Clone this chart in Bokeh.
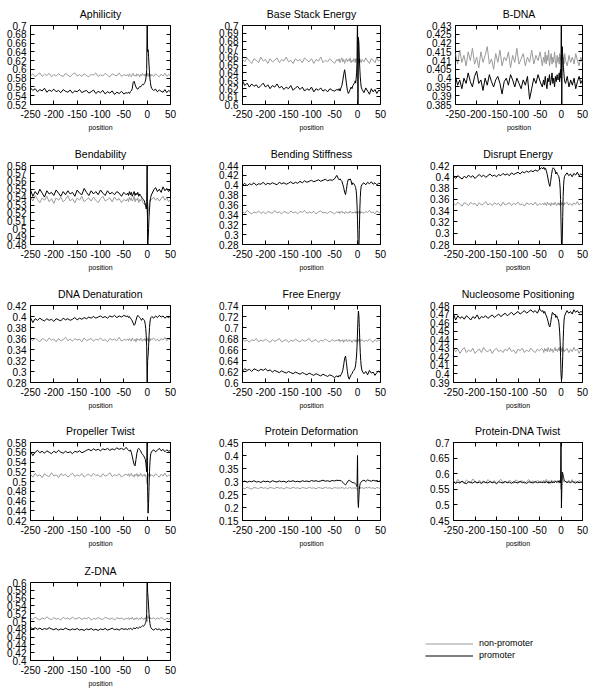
from bokeh.plotting import figure
from bokeh.layouts import column, row, Spacer
from bokeh.models import (Range1d, FixedTicker, LinearAxis, CustomJSTickFormatter,
                          Legend, LegendItem, ColumnDataSource)
from bokeh.embed import file_html
from bokeh.resources import INLINE

FONT = "Liberation Sans"
GRAY = "#9a9a9a"

POSITION = [-250, -245, -240, -235, -230, -225, -220, -215, -210, -205,
            -200, -195, -190, -185, -180, -175, -170, -165, -160, -155,
            -150, -145, -140, -135, -130, -125, -120, -115, -110, -105,
            -100, -95, -90, -85, -80, -75, -70, -65, -60, -55,
            -50, -45,
            -42, -40, -38, -36, -34, -32, -30, -28, -26, -24, -22, -20, -18, -16, -14, -12, -10, -8,
            -6, -5, -4, -3, -2, -1, 0, 1, 2, 3, 4, 5, 6, 7, 8,
            10, 14, 18, 22, 26, 30, 34, 38, 42, 46, 50]
X_TICKS = [-250, -200, -150, -100, -50, 0, 50]

# ---------------- Aphilicity ----------------
APH_TICKS = [0.52, 0.54, 0.56, 0.58, 0.60, 0.62, 0.64, 0.66, 0.68, 0.70]
APH_NONPROM = [0.585, 0.590, 0.583, 0.588, 0.592, 0.584, 0.589, 0.586, 0.591, 0.583,
               0.588, 0.585, 0.590, 0.586, 0.584, 0.591, 0.587, 0.583, 0.589, 0.592,
               0.585, 0.588, 0.584, 0.590, 0.586, 0.583, 0.589, 0.587, 0.592, 0.584,
               0.588, 0.585, 0.591, 0.586, 0.583, 0.590, 0.587, 0.585, 0.592, 0.584,
               0.588, 0.586,
               0.588, 0.584, 0.590, 0.586, 0.583, 0.589, 0.591, 0.585, 0.587, 0.584, 0.590, 0.586, 0.588, 0.583, 0.589, 0.585, 0.591, 0.587,
               0.586, 0.589, 0.584, 0.590, 0.587, 0.585, 0.592, 0.588, 0.584, 0.590, 0.586, 0.589, 0.583, 0.588, 0.585,
               0.589, 0.584, 0.590, 0.586, 0.583, 0.589, 0.585, 0.591, 0.584, 0.588, 0.586]
APH_PROM = [0.558, 0.552, 0.556, 0.549, 0.554, 0.551, 0.557, 0.548, 0.553, 0.550,
            0.555, 0.549, 0.552, 0.547, 0.554, 0.550, 0.548, 0.553, 0.546, 0.551,
            0.549, 0.554, 0.547, 0.550, 0.552, 0.546, 0.549, 0.553, 0.545, 0.550,
            0.547, 0.552, 0.544, 0.549, 0.546, 0.551, 0.543, 0.548, 0.545, 0.550,
            0.544, 0.547,
            0.546, 0.548, 0.545, 0.549, 0.551, 0.556, 0.570, 0.573, 0.566, 0.560, 0.556, 0.555, 0.558, 0.561, 0.560, 0.563, 0.566, 0.565,
            0.568, 0.570, 0.573, 0.578, 0.585, 0.600, 0.720, 0.640, 0.645, 0.630, 0.610, 0.592, 0.578, 0.570, 0.562,
            0.556, 0.552, 0.555, 0.549, 0.553, 0.550, 0.548, 0.554, 0.547, 0.552, 0.549]

# ---------------- Base Stack Energy ----------------
BSE_TICKS = [0.60, 0.61, 0.62, 0.63, 0.64, 0.65, 0.66, 0.67, 0.68, 0.69, 0.70]
BSE_NONPROM = [0.657, 0.654, 0.659, 0.655, 0.652, 0.658, 0.656, 0.653, 0.660, 0.655,
               0.657, 0.652, 0.658, 0.654, 0.656, 0.659, 0.653, 0.657, 0.655, 0.660,
               0.654, 0.656, 0.652, 0.658, 0.655, 0.657, 0.653, 0.659, 0.656, 0.654,
               0.658, 0.652, 0.657, 0.655, 0.660, 0.653, 0.656, 0.654, 0.658, 0.655,
               0.652, 0.657,
               0.655, 0.658, 0.653, 0.656, 0.659, 0.654, 0.657, 0.652, 0.656, 0.658, 0.654, 0.657, 0.655, 0.659, 0.653, 0.656, 0.654, 0.658,
               0.656, 0.653, 0.658, 0.655, 0.657, 0.654, 0.659, 0.656, 0.652, 0.657, 0.655, 0.658, 0.654, 0.656, 0.653,
               0.657, 0.654, 0.659, 0.655, 0.652, 0.658, 0.656, 0.653, 0.659, 0.655, 0.657]
BSE_PROM = [0.630, 0.624, 0.627, 0.622, 0.626, 0.623, 0.625, 0.621, 0.624, 0.627,
            0.622, 0.625, 0.620, 0.624, 0.622, 0.626, 0.621, 0.623, 0.619, 0.622,
            0.620, 0.624, 0.618, 0.621, 0.623, 0.619, 0.622, 0.617, 0.620, 0.618,
            0.622, 0.616, 0.620, 0.618, 0.621, 0.617, 0.619, 0.616, 0.620, 0.618,
            0.617, 0.619,
            0.618, 0.620, 0.617, 0.621, 0.624, 0.630, 0.638, 0.644, 0.636, 0.626, 0.618, 0.614, 0.616, 0.619, 0.622, 0.620, 0.624, 0.626,
            0.628, 0.630, 0.627, 0.632, 0.640, 0.655, 0.720, 0.580, 0.685, 0.678, 0.660, 0.645, 0.635, 0.628, 0.622,
            0.619, 0.615, 0.621, 0.617, 0.613, 0.620, 0.616, 0.619, 0.614, 0.618, 0.617]

# ---------------- B-DNA ----------------
BDNA_TICKS = [0.385, 0.39, 0.395, 0.40, 0.405, 0.41, 0.415, 0.42, 0.425, 0.43]
BDNA_NONPROM = [0.414, 0.408, 0.416, 0.409, 0.413, 0.407, 0.415, 0.410, 0.417, 0.408,
                0.412, 0.406, 0.415, 0.409, 0.413, 0.418, 0.408, 0.411, 0.405, 0.414,
                0.409, 0.416, 0.407, 0.412, 0.410, 0.415, 0.406, 0.413, 0.409, 0.417,
                0.408, 0.411, 0.414, 0.407, 0.412, 0.409, 0.416, 0.408, 0.413, 0.410,
                0.415, 0.407,
                0.412, 0.409, 0.415, 0.408, 0.413, 0.410, 0.416, 0.407, 0.411, 0.414, 0.408, 0.412, 0.409, 0.415, 0.410, 0.406, 0.413, 0.409,
                0.412, 0.408, 0.414, 0.410, 0.411, 0.413, 0.406, 0.404, 0.410, 0.413, 0.409, 0.412, 0.408, 0.411, 0.414,
                0.410, 0.407, 0.413, 0.409, 0.412, 0.408, 0.414, 0.410, 0.407, 0.412, 0.409]
BDNA_PROM = [0.401, 0.396, 0.399, 0.394, 0.400, 0.397, 0.403, 0.398, 0.395, 0.401,
             0.404, 0.397, 0.399, 0.393, 0.400, 0.396, 0.402, 0.398, 0.395, 0.399,
             0.401, 0.397, 0.391, 0.398, 0.400, 0.396, 0.402, 0.399, 0.395, 0.400,
             0.397, 0.394, 0.399, 0.396, 0.401, 0.388, 0.394, 0.400, 0.397, 0.402,
             0.398, 0.395,
             0.399, 0.396, 0.401, 0.397, 0.394, 0.400, 0.398, 0.402, 0.396, 0.399, 0.403, 0.397, 0.400, 0.395, 0.401, 0.398, 0.402, 0.399,
             0.400, 0.403, 0.398, 0.402, 0.405, 0.400, 0.440, 0.380, 0.418, 0.414, 0.410, 0.406, 0.403, 0.400, 0.398,
             0.397, 0.401, 0.395, 0.399, 0.396, 0.400, 0.394, 0.398, 0.401, 0.397, 0.399]

# ---------------- Bendability ----------------
BEND_TICKS = [0.48, 0.49, 0.50, 0.51, 0.52, 0.53, 0.54, 0.55, 0.56, 0.57, 0.58]
BEND_NONPROM = [0.540, 0.535, 0.542, 0.537, 0.533, 0.539, 0.536, 0.541, 0.534, 0.538,
                0.532, 0.539, 0.536, 0.540, 0.534, 0.537, 0.542, 0.535, 0.538, 0.533,
                0.539, 0.536, 0.541, 0.534, 0.537, 0.539, 0.535, 0.540, 0.536, 0.533,
                0.538, 0.541, 0.535, 0.537, 0.539, 0.534, 0.540, 0.536, 0.538, 0.533,
                0.537, 0.535,
                0.538, 0.534, 0.540, 0.536, 0.539, 0.535, 0.537, 0.541, 0.534, 0.538, 0.536, 0.539, 0.533, 0.537, 0.535, 0.538, 0.534, 0.532,
                0.533, 0.530, 0.532, 0.528, 0.530, 0.525, 0.520, 0.515, 0.520, 0.525, 0.530, 0.534, 0.536, 0.535, 0.538,
                0.537, 0.540, 0.536, 0.539, 0.535, 0.538, 0.541, 0.536, 0.539, 0.534, 0.537]
BEND_PROM = [0.549, 0.541, 0.547, 0.543, 0.550, 0.545, 0.540, 0.548, 0.544, 0.546,
             0.542, 0.549, 0.545, 0.541, 0.547, 0.543, 0.548, 0.544, 0.546, 0.541,
             0.549, 0.545, 0.543, 0.551, 0.546, 0.542, 0.548, 0.544, 0.547, 0.543,
             0.549, 0.545, 0.542, 0.548, 0.544, 0.546, 0.543, 0.547, 0.545, 0.541,
             0.546, 0.543,
             0.545, 0.542, 0.547, 0.543, 0.546, 0.541, 0.544, 0.547, 0.542, 0.545, 0.543, 0.546, 0.541, 0.544, 0.542, 0.540, 0.538, 0.537,
             0.535, 0.533, 0.530, 0.528, 0.525, 0.530, 0.600, 0.470, 0.485, 0.500, 0.515, 0.525, 0.533, 0.538, 0.541,
             0.544, 0.549, 0.552, 0.547, 0.550, 0.546, 0.553, 0.548, 0.551, 0.547, 0.550]

# ---------------- Bending Stiffness ----------------
BS_TICKS = [0.28, 0.30, 0.32, 0.34, 0.36, 0.38, 0.40, 0.42, 0.44]
BS_NONPROM = [0.347, 0.343, 0.349, 0.345, 0.342, 0.346, 0.344, 0.348, 0.343, 0.346,
              0.342, 0.347, 0.345, 0.343, 0.349, 0.344, 0.346, 0.342, 0.347, 0.345,
              0.343, 0.348, 0.344, 0.346, 0.342, 0.347, 0.345, 0.349, 0.343, 0.346,
              0.344, 0.347, 0.342, 0.346, 0.348, 0.344, 0.345, 0.343, 0.347, 0.345,
              0.342, 0.346,
              0.344, 0.347, 0.343, 0.346, 0.348, 0.344, 0.345, 0.342, 0.347, 0.345, 0.343, 0.346, 0.344, 0.348, 0.345, 0.343, 0.346, 0.344,
              0.345, 0.347, 0.343, 0.346, 0.344, 0.347, 0.345, 0.343, 0.346, 0.344, 0.348, 0.345, 0.343, 0.347, 0.344,
              0.346, 0.343, 0.347, 0.345, 0.349, 0.344, 0.346, 0.342, 0.348, 0.345, 0.343]
BS_PROM = [0.400, 0.404, 0.399, 0.403, 0.401, 0.405, 0.400, 0.403, 0.402, 0.406,
           0.401, 0.404, 0.402, 0.405, 0.403, 0.401, 0.406, 0.403, 0.405, 0.402,
           0.404, 0.407, 0.403, 0.406, 0.404, 0.408, 0.405, 0.409, 0.406, 0.408,
           0.410, 0.407, 0.409, 0.411, 0.408, 0.410, 0.412, 0.409, 0.411, 0.410,
           0.413, 0.420,
           0.414, 0.411, 0.413, 0.410, 0.408, 0.402, 0.395, 0.386, 0.381, 0.392, 0.405, 0.412, 0.411, 0.413, 0.409, 0.401, 0.405, 0.403,
           0.400, 0.398, 0.395, 0.390, 0.380, 0.360, 0.330, 0.290, 0.260, 0.270, 0.310, 0.350, 0.375, 0.390, 0.398,
           0.402, 0.405, 0.401, 0.406, 0.403, 0.407, 0.402, 0.405, 0.401, 0.404, 0.403]

# ---------------- Disrupt Energy ----------------
DE_TICKS = [0.28, 0.30, 0.32, 0.34, 0.36, 0.38, 0.40, 0.42]
DE_NONPROM = [0.353, 0.350, 0.355, 0.351, 0.348, 0.354, 0.352, 0.349, 0.355, 0.351,
              0.353, 0.348, 0.354, 0.350, 0.352, 0.356, 0.350, 0.353, 0.349, 0.354,
              0.351, 0.353, 0.348, 0.355, 0.350, 0.352, 0.354, 0.349, 0.353, 0.351,
              0.355, 0.350, 0.352, 0.348, 0.354, 0.351, 0.353, 0.350, 0.355, 0.349,
              0.352, 0.351,
              0.353, 0.350, 0.354, 0.351, 0.349, 0.355, 0.352, 0.350, 0.353, 0.348, 0.354, 0.351, 0.353, 0.350, 0.355, 0.352, 0.349, 0.353,
              0.351, 0.354, 0.350, 0.353, 0.349, 0.352, 0.355, 0.350, 0.353, 0.351, 0.354, 0.349, 0.352, 0.350, 0.354,
              0.352, 0.355, 0.350, 0.353, 0.349, 0.354, 0.351, 0.356, 0.350, 0.353, 0.351]
DE_PROM = [0.401, 0.397, 0.402, 0.399, 0.396, 0.401, 0.398, 0.403, 0.399, 0.402,
           0.397, 0.401, 0.404, 0.400, 0.403, 0.399, 0.402, 0.405, 0.401, 0.403,
           0.400, 0.404, 0.402, 0.406, 0.403, 0.405, 0.402, 0.407, 0.404, 0.406,
           0.408, 0.405, 0.409, 0.407, 0.410, 0.408, 0.411, 0.409, 0.412, 0.410,
           0.413, 0.416,
           0.414, 0.417, 0.413, 0.415, 0.410, 0.404, 0.396, 0.388, 0.383, 0.392, 0.404, 0.413, 0.416, 0.414, 0.412, 0.405, 0.408, 0.404,
           0.402, 0.400, 0.396, 0.390, 0.380, 0.360, 0.320, 0.285, 0.270, 0.290, 0.330, 0.365, 0.385, 0.395, 0.400,
           0.403, 0.407, 0.402, 0.405, 0.400, 0.406, 0.403, 0.408, 0.402, 0.405, 0.403]

# ---------------- DNA Denaturation ----------------
DD_TICKS = [0.28, 0.30, 0.32, 0.34, 0.36, 0.38, 0.40, 0.42]
DD_NONPROM = [0.359, 0.356, 0.361, 0.357, 0.354, 0.360, 0.358, 0.355, 0.361, 0.357,
              0.359, 0.354, 0.360, 0.356, 0.358, 0.362, 0.356, 0.359, 0.355, 0.360,
              0.357, 0.359, 0.354, 0.361, 0.356, 0.358, 0.360, 0.355, 0.359, 0.357,
              0.361, 0.356, 0.358, 0.354, 0.360, 0.357, 0.359, 0.356, 0.362, 0.355,
              0.358, 0.357,
              0.359, 0.356, 0.360, 0.357, 0.355, 0.361, 0.358, 0.356, 0.359, 0.354, 0.360, 0.357, 0.359, 0.356, 0.361, 0.358, 0.355, 0.359,
              0.357, 0.360, 0.356, 0.359, 0.355, 0.358, 0.361, 0.356, 0.359, 0.357, 0.360, 0.355, 0.358, 0.356, 0.360,
              0.358, 0.361, 0.356, 0.359, 0.355, 0.360, 0.357, 0.362, 0.356, 0.359, 0.357]
DD_PROM = [0.398, 0.389, 0.396, 0.393, 0.397, 0.394, 0.392, 0.396, 0.393, 0.395,
           0.391, 0.396, 0.394, 0.392, 0.397, 0.394, 0.396, 0.393, 0.395, 0.398,
           0.394, 0.397, 0.395, 0.398, 0.396, 0.399, 0.397, 0.400, 0.397, 0.399,
           0.401, 0.398, 0.400, 0.397, 0.401, 0.399, 0.402, 0.398, 0.401, 0.399,
           0.402, 0.400,
           0.401, 0.398, 0.400, 0.397, 0.395, 0.392, 0.388, 0.384, 0.386, 0.393, 0.399, 0.402, 0.400, 0.398, 0.396, 0.393, 0.397, 0.395,
           0.393, 0.390, 0.385, 0.378, 0.365, 0.345, 0.270, 0.320, 0.330, 0.345, 0.365, 0.380, 0.390, 0.395, 0.398,
           0.400, 0.397, 0.401, 0.398, 0.402, 0.399, 0.401, 0.397, 0.400, 0.398, 0.401]

# ---------------- Free Energy ----------------
FE_TICKS = [0.60, 0.62, 0.64, 0.66, 0.68, 0.70, 0.72, 0.74]
FE_NONPROM = [0.679, 0.675, 0.677, 0.673, 0.678, 0.676, 0.680, 0.674, 0.677, 0.675,
              0.679, 0.676, 0.673, 0.678, 0.675, 0.677, 0.680, 0.674, 0.676, 0.678,
              0.673, 0.677, 0.675, 0.679, 0.676, 0.674, 0.678, 0.675, 0.677, 0.680,
              0.674, 0.676, 0.678, 0.673, 0.677, 0.675, 0.679, 0.676, 0.674, 0.678,
              0.675, 0.677,
              0.676, 0.679, 0.674, 0.677, 0.675, 0.678, 0.673, 0.677, 0.676, 0.679, 0.674, 0.676, 0.678, 0.675, 0.677, 0.673, 0.676, 0.678,
              0.675, 0.677, 0.674, 0.678, 0.676, 0.673, 0.677, 0.675, 0.679, 0.676, 0.674, 0.678, 0.675, 0.677, 0.676,
              0.678, 0.674, 0.677, 0.675, 0.679, 0.676, 0.673, 0.678, 0.675, 0.677, 0.676]
FE_PROM = [0.621, 0.625, 0.622, 0.624, 0.620, 0.625, 0.623, 0.621, 0.624, 0.622,
           0.625, 0.621, 0.623, 0.619, 0.622, 0.620, 0.618, 0.621, 0.619, 0.617,
           0.620, 0.618, 0.616, 0.619, 0.617, 0.615, 0.618, 0.616, 0.614, 0.617,
           0.615, 0.613, 0.616, 0.614, 0.612, 0.615, 0.613, 0.611, 0.614, 0.612,
           0.609, 0.612,
           0.610, 0.613, 0.611, 0.614, 0.617, 0.622, 0.632, 0.644, 0.648, 0.636, 0.620, 0.610, 0.606, 0.610, 0.614, 0.616, 0.620, 0.622,
           0.625, 0.628, 0.632, 0.640, 0.650, 0.665, 0.690, 0.715, 0.730, 0.722, 0.700, 0.675, 0.655, 0.640, 0.630,
           0.621, 0.616, 0.620, 0.614, 0.622, 0.617, 0.619, 0.613, 0.618, 0.621, 0.617]

# ---------------- Nucleosome Positioning ----------------
NP_TICKS = [0.39, 0.40, 0.41, 0.42, 0.43, 0.44, 0.45, 0.46, 0.47, 0.48]
NP_NONPROM = [0.430, 0.426, 0.429, 0.424, 0.428, 0.431, 0.425, 0.428, 0.426, 0.430,
              0.424, 0.427, 0.429, 0.425, 0.431, 0.427, 0.426, 0.429, 0.424, 0.428,
              0.430, 0.426, 0.428, 0.425, 0.429, 0.427, 0.431, 0.426, 0.428, 0.424,
              0.429, 0.427, 0.430, 0.425, 0.428, 0.426, 0.430, 0.427, 0.425, 0.429,
              0.427, 0.430,
              0.428, 0.425, 0.430, 0.427, 0.429, 0.426, 0.431, 0.428, 0.426, 0.430, 0.427, 0.429, 0.425, 0.428, 0.431, 0.427, 0.429, 0.426,
              0.430, 0.428, 0.431, 0.427, 0.429, 0.432, 0.428, 0.430, 0.426, 0.429, 0.431, 0.427, 0.429, 0.426, 0.428,
              0.427, 0.430, 0.425, 0.429, 0.426, 0.431, 0.427, 0.429, 0.424, 0.428, 0.426]
NP_PROM = [0.470, 0.463, 0.468, 0.465, 0.467, 0.464, 0.468, 0.466, 0.463, 0.467,
           0.465, 0.469, 0.464, 0.467, 0.466, 0.468, 0.465, 0.467, 0.469, 0.466,
           0.468, 0.470, 0.467, 0.469, 0.471, 0.468, 0.470, 0.472, 0.469, 0.471,
           0.473, 0.470, 0.472, 0.474, 0.471, 0.473, 0.475, 0.472, 0.474, 0.471,
           0.476, 0.473,
           0.474, 0.471, 0.473, 0.470, 0.468, 0.465, 0.461, 0.457, 0.455, 0.460, 0.467, 0.472, 0.471, 0.469, 0.470, 0.466, 0.468, 0.465,
           0.463, 0.460, 0.455, 0.448, 0.438, 0.420, 0.400, 0.393, 0.395, 0.405, 0.420, 0.438, 0.452, 0.462, 0.467,
           0.470, 0.474, 0.471, 0.473, 0.470, 0.475, 0.472, 0.474, 0.471, 0.473, 0.472]

# ---------------- Propeller Twist ----------------
PT_TICKS = [0.42, 0.44, 0.46, 0.48, 0.50, 0.52, 0.54, 0.56, 0.58]
PT_NONPROM = [0.515, 0.509, 0.517, 0.511, 0.514, 0.508, 0.516, 0.512, 0.510, 0.518,
              0.511, 0.514, 0.508, 0.516, 0.512, 0.515, 0.509, 0.513, 0.517, 0.510,
              0.514, 0.511, 0.516, 0.509, 0.513, 0.515, 0.510, 0.517, 0.512, 0.514,
              0.509, 0.516, 0.511, 0.513, 0.518, 0.510, 0.514, 0.512, 0.516, 0.509,
              0.513, 0.515,
              0.512, 0.516, 0.510, 0.514, 0.517, 0.511, 0.513, 0.509, 0.515, 0.512, 0.516, 0.510, 0.514, 0.511, 0.517, 0.513, 0.510, 0.514,
              0.512, 0.515, 0.510, 0.513, 0.508, 0.500, 0.495, 0.505, 0.512, 0.516, 0.511, 0.514, 0.510, 0.515, 0.512,
              0.514, 0.510, 0.516, 0.512, 0.509, 0.515, 0.511, 0.517, 0.510, 0.513, 0.511]
PT_PROM = [0.562, 0.553, 0.560, 0.564, 0.559, 0.562, 0.558, 0.563, 0.560, 0.557,
           0.562, 0.559, 0.564, 0.560, 0.558, 0.562, 0.559, 0.561, 0.557, 0.562,
           0.560, 0.563, 0.559, 0.561, 0.564, 0.566, 0.563, 0.567, 0.564, 0.566,
           0.563, 0.567, 0.565, 0.568, 0.564, 0.567, 0.565, 0.569, 0.566, 0.568,
           0.565, 0.570,
           0.566, 0.564, 0.562, 0.565, 0.560, 0.552, 0.543, 0.535, 0.532, 0.545, 0.558, 0.566, 0.568, 0.565, 0.563, 0.558, 0.556, 0.553,
           0.550, 0.548, 0.545, 0.540, 0.530, 0.520, 0.600, 0.480, 0.435, 0.455, 0.490, 0.520, 0.540, 0.552, 0.558,
           0.562, 0.565, 0.561, 0.564, 0.568, 0.563, 0.566, 0.561, 0.565, 0.562, 0.564]

# ---------------- Protein Deformation ----------------
PD_TICKS = [0.15, 0.20, 0.25, 0.30, 0.35, 0.40, 0.45]
PD_NONPROM = [0.276, 0.272, 0.278, 0.274, 0.271, 0.277, 0.275, 0.273, 0.278, 0.274,
              0.276, 0.272, 0.277, 0.275, 0.273, 0.278, 0.274, 0.276, 0.271, 0.277,
              0.275, 0.273, 0.278, 0.274, 0.276, 0.272, 0.277, 0.275, 0.273, 0.278,
              0.274, 0.276, 0.272, 0.277, 0.275, 0.273, 0.278, 0.274, 0.276, 0.272,
              0.277, 0.275,
              0.274, 0.277, 0.273, 0.276, 0.278, 0.274, 0.275, 0.272, 0.277, 0.275, 0.273, 0.276, 0.274, 0.278, 0.275, 0.273, 0.276, 0.274,
              0.275, 0.277, 0.273, 0.276, 0.274, 0.270, 0.265, 0.270, 0.275, 0.277, 0.274, 0.276, 0.273, 0.277, 0.275,
              0.276, 0.273, 0.277, 0.275, 0.278, 0.274, 0.276, 0.272, 0.277, 0.275, 0.273]
PD_PROM = [0.298, 0.302, 0.297, 0.301, 0.299, 0.303, 0.298, 0.300, 0.296, 0.302,
           0.299, 0.301, 0.297, 0.303, 0.300, 0.298, 0.302, 0.299, 0.301, 0.297,
           0.302, 0.300, 0.303, 0.299, 0.301, 0.298, 0.303, 0.300, 0.302, 0.299,
           0.304, 0.301, 0.303, 0.300, 0.302, 0.305, 0.301, 0.303, 0.300, 0.304,
           0.302, 0.305,
           0.303, 0.306, 0.302, 0.304, 0.300, 0.297, 0.293, 0.289, 0.287, 0.292, 0.298, 0.303, 0.305, 0.302, 0.300, 0.297, 0.295, 0.296,
           0.294, 0.292, 0.290, 0.288, 0.285, 0.280, 0.400, 0.230, 0.200, 0.240, 0.270, 0.285, 0.292, 0.296, 0.299,
           0.302, 0.305, 0.300, 0.306, 0.303, 0.301, 0.305, 0.302, 0.304, 0.300, 0.303]

# ---------------- Protein-DNA Twist ----------------
PDT_TICKS = [0.45, 0.50, 0.55, 0.60, 0.65, 0.70]
PDT_NONPROM = [0.578, 0.570, 0.582, 0.573, 0.576, 0.568, 0.580, 0.574, 0.571, 0.583,
               0.575, 0.569, 0.579, 0.573, 0.577, 0.570, 0.581, 0.574, 0.572, 0.578,
               0.569, 0.576, 0.582, 0.573, 0.575, 0.571, 0.579, 0.574, 0.570, 0.580,
               0.576, 0.572, 0.578, 0.569, 0.575, 0.581, 0.573, 0.577, 0.571, 0.579,
               0.574, 0.576,
               0.573, 0.579, 0.570, 0.577, 0.582, 0.574, 0.571, 0.578, 0.575, 0.569, 0.580, 0.574, 0.577, 0.572, 0.579, 0.575, 0.571, 0.578,
               0.574, 0.580, 0.572, 0.577, 0.570, 0.560, 0.550, 0.585, 0.595, 0.588, 0.582, 0.578, 0.575, 0.579, 0.573,
               0.576, 0.571, 0.579, 0.574, 0.581, 0.572, 0.577, 0.570, 0.578, 0.575, 0.573]
PDT_PROM = [0.574, 0.569, 0.573, 0.570, 0.576, 0.571, 0.568, 0.574, 0.572, 0.570,
            0.575, 0.571, 0.573, 0.569, 0.574, 0.572, 0.570, 0.575, 0.571, 0.573,
            0.568, 0.574, 0.572, 0.570, 0.575, 0.571, 0.573, 0.569, 0.574, 0.572,
            0.570, 0.576, 0.571, 0.573, 0.569, 0.574, 0.572, 0.570, 0.575, 0.571,
            0.573, 0.572,
            0.571, 0.574, 0.570, 0.573, 0.575, 0.571, 0.574, 0.569, 0.573, 0.572, 0.575, 0.570, 0.574, 0.571, 0.573, 0.576, 0.572, 0.574,
            0.573, 0.576, 0.572, 0.575, 0.578, 0.570, 0.720, 0.490, 0.560, 0.605, 0.602, 0.595, 0.588, 0.582, 0.578,
            0.575, 0.572, 0.574, 0.571, 0.575, 0.572, 0.570, 0.574, 0.571, 0.573, 0.572]

# ---------------- Z-DNA ----------------
ZDNA_TICKS = [0.40, 0.42, 0.44, 0.46, 0.48, 0.50, 0.52, 0.54, 0.56, 0.58, 0.60]
ZDNA_NONPROM = [0.510, 0.505, 0.511, 0.507, 0.504, 0.509, 0.506, 0.512, 0.507, 0.505,
                0.510, 0.506, 0.508, 0.504, 0.511, 0.507, 0.509, 0.505, 0.512, 0.506,
                0.508, 0.510, 0.505, 0.509, 0.507, 0.511, 0.504, 0.508, 0.506, 0.510,
                0.507, 0.505, 0.511, 0.508, 0.506, 0.509, 0.504, 0.510, 0.507, 0.509,
                0.505, 0.508,
                0.507, 0.510, 0.505, 0.509, 0.506, 0.511, 0.507, 0.504, 0.509, 0.506, 0.510, 0.507, 0.505, 0.509, 0.506, 0.511, 0.508, 0.505,
                0.509, 0.506, 0.510, 0.507, 0.505, 0.503, 0.500, 0.512, 0.515, 0.510, 0.507, 0.509, 0.506, 0.510, 0.508,
                0.507, 0.510, 0.505, 0.509, 0.506, 0.511, 0.507, 0.504, 0.509, 0.506, 0.508]
ZDNA_PROM = [0.485, 0.481, 0.484, 0.480, 0.483, 0.479, 0.482, 0.480, 0.484, 0.481,
             0.479, 0.482, 0.478, 0.481, 0.479, 0.483, 0.480, 0.478, 0.481, 0.479,
             0.482, 0.478, 0.480, 0.477, 0.481, 0.479, 0.482, 0.478, 0.480, 0.477,
             0.481, 0.479, 0.482, 0.478, 0.480, 0.483, 0.479, 0.481, 0.478, 0.482,
             0.480, 0.481,
             0.479, 0.482, 0.480, 0.483, 0.481, 0.479, 0.482, 0.484, 0.481, 0.483, 0.485, 0.482, 0.484, 0.486, 0.485, 0.487, 0.489, 0.488,
             0.490, 0.492, 0.495, 0.498, 0.505, 0.520, 0.620, 0.575, 0.560, 0.540, 0.520, 0.505, 0.495, 0.488, 0.484,
             0.481, 0.478, 0.482, 0.479, 0.481, 0.477, 0.480, 0.478, 0.482, 0.479, 0.480]

PANELS = [
    ("Aphilicity", APH_TICKS, APH_NONPROM, APH_PROM),
    ("Base Stack Energy", BSE_TICKS, BSE_NONPROM, BSE_PROM),
    ("B-DNA", BDNA_TICKS, BDNA_NONPROM, BDNA_PROM),
    ("Bendability", BEND_TICKS, BEND_NONPROM, BEND_PROM),
    ("Bending Stiffness", BS_TICKS, BS_NONPROM, BS_PROM),
    ("Disrupt Energy", DE_TICKS, DE_NONPROM, DE_PROM),
    ("DNA Denaturation", DD_TICKS, DD_NONPROM, DD_PROM),
    ("Free Energy", FE_TICKS, FE_NONPROM, FE_PROM),
    ("Nucleosome Positioning", NP_TICKS, NP_NONPROM, NP_PROM),
    ("Propeller Twist", PT_TICKS, PT_NONPROM, PT_PROM),
    ("Protein Deformation", PD_TICKS, PD_NONPROM, PD_PROM),
    ("Protein-DNA Twist", PDT_TICKS, PDT_NONPROM, PDT_PROM),
    ("Z-DNA", ZDNA_TICKS, ZDNA_NONPROM, ZDNA_PROM),
]
for name, _, a, b in PANELS:
    assert len(a) == len(POSITION), (name, "nonpromoter", len(a))
    assert len(b) == len(POSITION), (name, "promoter", len(b))

# layout (pixels)
COL_W = [212, 211, 177]
MIN_LEFT = [30, 30, 30]
MIN_RIGHT = [42, 43, 18]
ROW_H = [140, 140, 137, 140, 133]
ROW_FRAME = [79, 79, 77, 78, 78]
TOP = 25

FMT_CODE = "return String(parseFloat(tick.toFixed(4)));"


def style_axis(ax, labels=True):
    ax.major_tick_in = 4
    ax.major_tick_out = 0
    ax.minor_tick_in = 0
    ax.minor_tick_out = 0
    ax.axis_line_color = None
    ax.major_tick_line_color = "black"
    if labels:
        ax.formatter = CustomJSTickFormatter(code=FMT_CODE)
        ax.major_label_text_font = FONT
        ax.major_label_text_font_size = "10px"
        ax.major_label_text_color = "black"
        ax.major_label_standoff = 4
    else:
        ax.formatter = CustomJSTickFormatter(code="return '';")
        ax.major_label_text_font_size = "0px"
        ax.major_label_standoff = 0


def make_panel(idx, title, yticks, nonprom, prom):
    col, row_i = idx % 3, idx // 3
    p = figure(width=COL_W[col], height=ROW_H[row_i], output_backend="svg", toolbar_location=None,
               x_range=Range1d(X_TICKS[0], X_TICKS[-1]),
               y_range=Range1d(yticks[0], yticks[-1]),
               min_border_left=MIN_LEFT[col], min_border_right=MIN_RIGHT[col],
               min_border_top=TOP, min_border_bottom=ROW_H[row_i] - TOP - ROW_FRAME[row_i],
               title=title)
    p.title.text_font = FONT
    p.title.text_font_size = "10.5px"
    p.title.text_font_style = "normal"
    p.title.text_color = "black"
    p.title.align = "center"
    p.title.standoff = 11
    p.grid.visible = False
    p.outline_line_color = "black"
    p.outline_line_alpha = 1
    p.outline_line_width = 1
    src = ColumnDataSource(dict(position=POSITION, nonpromoter=nonprom, promoter=prom))
    p.line("position", "nonpromoter", source=src, line_color=GRAY, line_width=1)
    p.line("position", "promoter", source=src, line_color="black", line_width=1)

    p.xaxis.ticker = FixedTicker(ticks=X_TICKS)
    p.yaxis.ticker = FixedTicker(ticks=yticks)
    for ax in p.xaxis + p.yaxis:
        style_axis(ax)
    p.xaxis.major_label_standoff = 5
    p.xaxis.axis_label = "position"
    p.xaxis.axis_label_text_font = FONT
    p.xaxis.axis_label_text_font_size = "7px"
    p.xaxis.axis_label_text_font_style = "normal"
    p.xaxis.axis_label_text_color = "black"
    p.xaxis.axis_label_standoff = 3

    top = LinearAxis(ticker=FixedTicker(ticks=X_TICKS))
    style_axis(top, labels=False)
    p.add_layout(top, "above")
    right = LinearAxis(ticker=FixedTicker(ticks=yticks))
    style_axis(right, labels=False)
    p.add_layout(right, "right")
    return p


figs = [make_panel(i, *panel) for i, panel in enumerate(PANELS)]

# legend panel (bottom right); legend drawn at the bottom of its frame
leg = figure(width=COL_W[2], height=ROW_H[4], output_backend="svg", toolbar_location=None,
             x_axis_type=None, y_axis_type=None, min_border=0)
leg.outline_line_color = None
leg_src = ColumnDataSource(dict(position=POSITION, nonpromoter=ZDNA_NONPROM, promoter=ZDNA_PROM))
r_np = leg.line("position", "nonpromoter", source=leg_src, line_color=GRAY, line_width=1)
r_p = leg.line("position", "promoter", source=leg_src, line_color="black", line_width=1)
r_np.visible = False
r_p.visible = False
legend = Legend(items=[LegendItem(label="non-promoter", renderers=[r_np]),
                       LegendItem(label="promoter", renderers=[r_p])],
                location=(2, 0), orientation="vertical")
legend.label_text_font = FONT
legend.label_text_font_size = "9px"
legend.label_text_color = "black"
legend.label_height = 9
legend.glyph_height = 9
legend.glyph_width = 48
legend.label_standoff = 6
legend.spacing = 2
legend.padding = 0
legend.margin = 0
legend.border_line_color = None
legend.background_fill_alpha = 0
leg.add_layout(legend)

layout = column(
    row(*figs[0:3]),
    row(*figs[3:6]),
    row(*figs[6:9]),
    row(*figs[9:12]),
    row(figs[12], Spacer(width=COL_W[1], height=ROW_H[4]), leg),
)

open("out.html", "w").write(file_html(layout, INLINE))
